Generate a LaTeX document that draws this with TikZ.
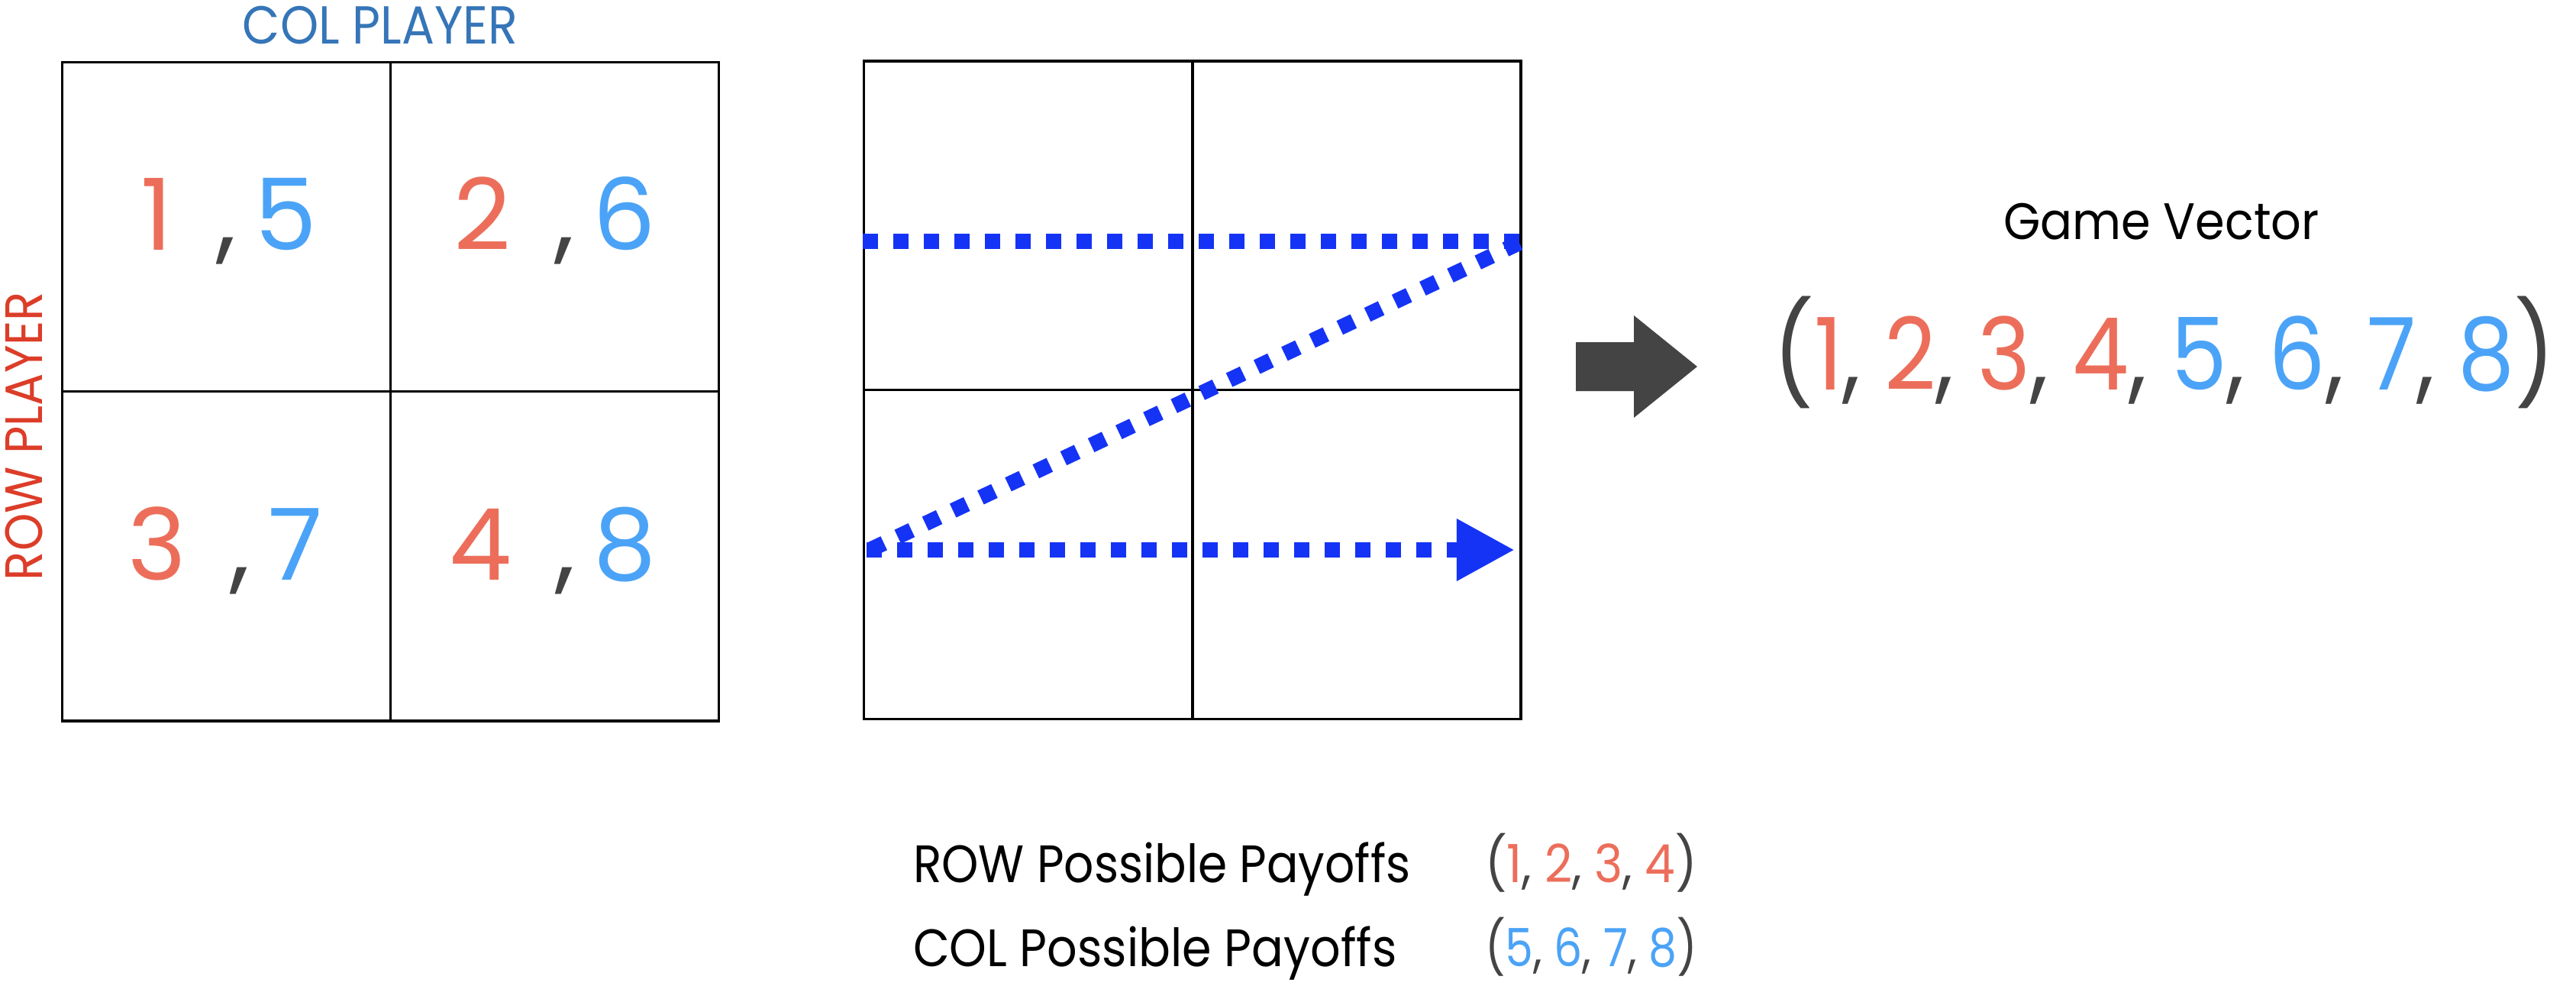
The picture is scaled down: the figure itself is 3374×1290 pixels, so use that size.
\documentclass[tikz,border=0pt]{standalone}
\usepackage{fontspec}
\setmainfont{Poppins}
\usepackage{graphicx}
\usetikzlibrary{arrows.meta}
\definecolor{pr}{HTML}{EC6E5A}
\definecolor{pb}{HTML}{4BA3F7}
\definecolor{pc}{HTML}{444444}
\definecolor{colp}{HTML}{3575B8}
\definecolor{rowp}{HTML}{DC3D29}
\definecolor{dotb}{HTML}{1533F5}
\newcommand\myr[1]{\textcolor{pr}{#1}}
\newcommand\myb[1]{\textcolor{pb}{#1}}
\newcommand\myc{\textcolor{pc}{,}}
\newcommand\mypair[2]{\myr{#1} \hspace{0.17em}\myc\hspace{-0.08em} \myb{#2}}
\newcommand\hfit[2]{\resizebox{#1}{\height}{#2}}
\newcommand\fsz[1]{\fontsize{#1}{#1}\selectfont}
\begin{document}
\begin{tikzpicture}[x=0.01cm,y=-0.01cm,
  grid/.style={line width=0.033cm,black},
  dotline/.style={dotb,line width=0.2cm,dash pattern=on 0.2cm off 0.2cm,line cap=butt},
  txt/.style={inner sep=0pt,outer sep=0pt},
  cell/.style={txt,anchor=base,font=\fsz{37pt}}]
\useasboundingbox[fill=white] (0,0) rectangle (3374,1290);
% grid 1
\draw[grid] (81.5,81.5) rectangle (941.5,944);
\draw[grid] (511.5,81.5) -- (511.5,944);
\draw[grid] (81.5,512.5) -- (941.5,512.5);
% grid 2
\draw[grid] (1131.5,80) rectangle (1992,941.5);
\draw[grid] (1562,80) -- (1562,941.5);
\draw[grid] (1131.5,510.5) -- (1992,510.5);
% labels
\node[txt,anchor=base,text=colp,font=\fsz{19.9pt}] (colplayer) at (498,57) {\hfit{3.60cm}{COL PLAYER}};
\node[txt,anchor=base,text=rowp,font=\fsz{19.6pt},rotate=90] (rowplayer) at (55,571) {\hfit{3.78cm}{ROW PLAYER}};
% cells
\node[cell] (c11) at (300,327) {\mypair{1}{5}};
\node[cell] (c12) at (727,327) {\mypair{2}{6}};
\node[cell] (c21) at (295,759) {\mypair{3}{7}};
\node[cell] (c22) at (724,759) {\mypair{4}{8}};
% dotted path
\coordinate (t0) at (1130,316);
\coordinate (t1) at (1990,316);
\coordinate (d0) at (1990,318);
\coordinate (d1) at (1135,722);
\coordinate (b0) at (1135,720);
\coordinate (b1) at (1984,720);
\draw[dotline] (t0) -- (t1);
\draw[dotline] (d0) -- (d1);
\draw[dotline,-{Triangle[length=0.76cm,width=0.76cm]}] (b0) -- (b1);
% big arrow
\fill[pc] (2064,448) -- (2140,448) -- (2140,413) -- (2223,480) -- (2140,547) -- (2140,512) -- (2064,512) -- cycle;
% game vector
\node[txt,anchor=base,font=\fsz{19.1pt}] (gvlabel) at (2831,313) {\hfit{4.13cm}{Game Vector}};
\node[txt,anchor=base,font=\fsz{37.3pt}] (gv) at (2835,510) {\hfit{10.24cm}{\textcolor{pc}{(}\myr{1}\myc{} \myr{2}\myc{} \myr{3}\myc{} \myr{4}\myc{} \myb{5}\myc{} \myb{6}\myc{} \myb{7}\myc{} \myb{8}\textcolor{pc}{)}}};
% bottom
\node[txt,anchor=base west,font=\fsz{19.6pt}] (rowpay) at (1196,1155) {\hfit{6.51cm}{ROW Possible Payoffs}};
\node[txt,anchor=base west,font=\fsz{19.6pt}] (colpay) at (1196,1265) {\hfit{6.33cm}{COL Possible Payoffs}};
\node[txt,anchor=base west,font=\fsz{19.6pt}] (rowvec) at (1945,1155) {\hfit{2.78cm}{\textcolor{pc}{(}\myr{1}\myc{} \myr{2}\myc{} \myr{3}\myc{} \myr{4}\textcolor{pc}{)}}};
\node[txt,anchor=base west,font=\fsz{19.6pt}] (colvec) at (1945,1265) {\hfit{2.78cm}{\textcolor{pc}{(}\myb{5}\myc{} \myb{6}\myc{} \myb{7}\myc{} \myb{8}\textcolor{pc}{)}}};
\end{tikzpicture}
\end{document}
